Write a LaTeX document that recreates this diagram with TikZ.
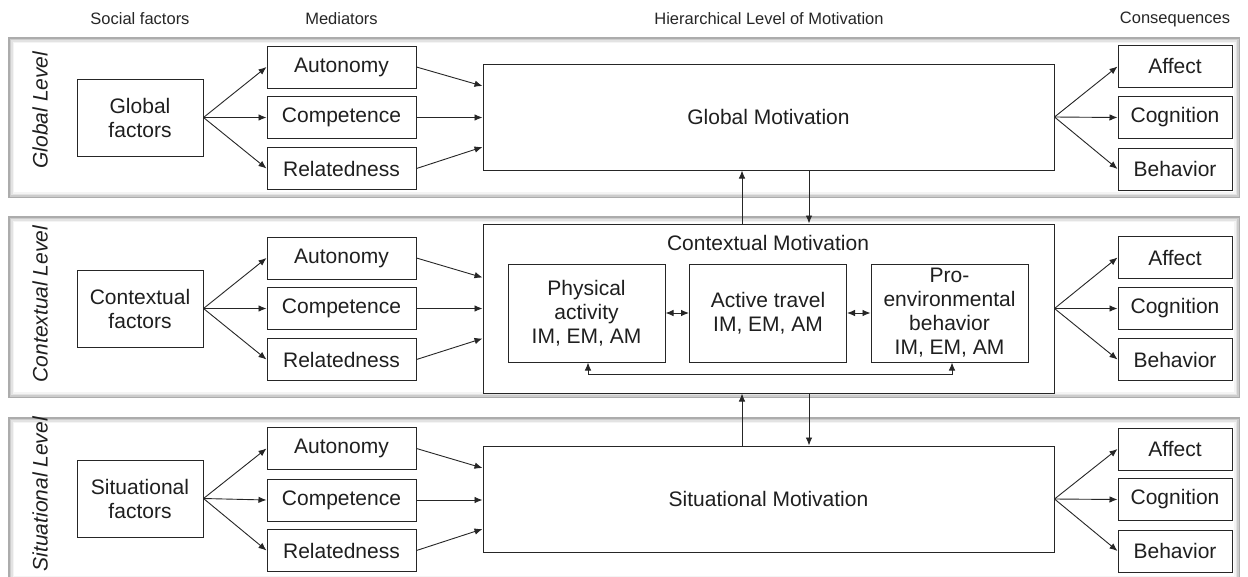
\documentclass[tikz,border=0pt]{standalone}
\usepackage{fontspec}
\setmainfont{Liberation Sans}
\usetikzlibrary{arrows.meta,calc}

\begin{document}
\begin{tikzpicture}[x=1pt,y=-1pt,
  box/.style={draw=black!85, line width=1pt, fill=white, inner sep=0pt,
    align=center, text=black!88, font=\fontsize{21}{24}\selectfont},
  medbox/.style={box, minimum width=149pt, minimum height=42pt},
  facbox/.style={box, minimum width=126pt, minimum height=77pt},
  conbox/.style={box, minimum width=114pt, minimum height=42pt},
  motbox/.style={box, minimum width=571pt},
  subbox/.style={box, minimum width=157pt, minimum height=98pt},
  tip/.tip={Latex[length=8pt,width=6.5pt]},
  arr/.style={draw=black!85, line width=0.9pt, -tip},
  darr/.style={draw=black!85, line width=0.9pt, tip-tip},
  head/.style={text=black!85, inner sep=0pt, font=\fontsize{16.5}{19}\selectfont},
  lvl/.style={rotate=90, inner sep=0pt, text=black!88,
    font=\fontsize{21}{24}\selectfont\itshape},
]
\useasboundingbox (0,0) rectangle (1248,576);

% level bands with a soft bevelled frame
\begin{scope}
\clip (0,0) rectangle (1248,576);
\foreach \t/\b in {37/198, 216/398, 417/582}{
  \fill[gray!65] (8,\t) rectangle (1240,\b);
  \fill[gray!40] (9.5,\t+1.5) rectangle (1238.5,\b-1.5);
  \fill[gray!22] (11,\t+3) rectangle (1237,\b-3);
  \fill[gray!9]  (12.5,\t+4.5) rectangle (1235.5,\b-4.5);
  \fill[white]   (14,\t+6) rectangle (1234,\b-6);
}
\end{scope}

% column headings
\node[head] (h-soc) at (140,19) {Social factors};
\node[head] (h-med) at (341.5,19) {Mediators};
\node[head] (h-hier) at (769,19) {Hierarchical Level of Motivation};
\node[head] (h-cons) at (1175,19) {Consequences};

% level labels
\node[lvl] (l-g) at (40,110) {Global Level};
\node[lvl] (l-c) at (40,304) {Contextual Level};
\node[lvl, anchor=east] (l-s) at (40,417) {Situational Level};

% ---------- global level ----------
\node[facbox] (g-f) at (140,117.5) {Global\\factors};
\node[medbox] (g-a) at (341.5,67) {Autonomy};
\node[medbox] (g-c) at (341.5,117.5) {Competence};
\node[medbox] (g-r) at (341.5,168.5) {Relatedness};
\node[motbox, minimum height=106pt] (g-m) at (768.5,117) {Global Motivation};
\node[conbox] (g-af) at (1175,66.5) {Affect};
\node[conbox] (g-co) at (1175,117.5) {Cognition};
\node[conbox] (g-be) at (1175,169) {Behavior};

% ---------- contextual level ----------
\node[facbox] (c-f) at (140,308.5) {Contextual\\factors};
\node[medbox] (c-a) at (341.5,258) {Autonomy};
\node[medbox] (c-c) at (341.5,308.5) {Competence};
\node[medbox] (c-r) at (341.5,359.5) {Relatedness};
\node[motbox, minimum height=169pt] (c-m) at (768.5,308.5) {};
\node[box, draw=none, fill=none] (c-title) at (768,243) {Contextual Motivation};
\node[subbox] (c-pa) at (586.5,313) {Physical\\activity\\IM, EM, AM};
\node[subbox] (c-at) at (768,313) {Active travel\\IM, EM, AM};
\node[subbox] (c-pe) at (949.5,313) {Pro-\\environmental\\behavior\\IM, EM, AM};
\node[conbox] (c-af) at (1175,257.5) {Affect};
\node[conbox] (c-co) at (1175,308.5) {Cognition};
\node[conbox] (c-be) at (1175,359.5) {Behavior};

% ---------- situational level ----------
\node[facbox] (s-f) at (140,498.5) {Situational\\factors};
\node[medbox] (s-a) at (341.5,448.5) {Autonomy};
\node[medbox] (s-c) at (341.5,500) {Competence};
\node[medbox] (s-r) at (341.5,550.5) {Relatedness};
\node[motbox, minimum height=106pt] (s-m) at (768.5,499) {Situational Motivation};
\node[conbox] (s-af) at (1175,449) {Affect};
\node[conbox] (s-co) at (1175,499.5) {Cognition};
\node[conbox] (s-be) at (1175,551) {Behavior};

% connectors repeated on each level
\foreach \p in {g,c,s}{
  \draw[arr] (\p-f.east) -- (\p-a.west);
  \draw[arr] (\p-f.east) -- (\p-c.west);
  \draw[arr] (\p-f.east) -- (\p-r.west);
  \draw[arr] (\p-a.east) -- ($(\p-m.west)+(0,-31)$);
  \draw[arr] (\p-c.east) -- (\p-c.east -| \p-m.west);
  \draw[arr] (\p-r.east) -- ($(\p-m.west)+(0,30)$);
  \draw[arr] (\p-m.east) -- (\p-af.west);
  \draw[arr] (\p-m.east) -- (\p-co.west);
  \draw[arr] (\p-m.east) -- (\p-be.west);
}

% links among the contextual domains
\draw[darr] (c-pa.east) -- (c-at.west);
\draw[darr] (c-at.east) -- (c-pe.west);
\draw[darr] ($(c-pa.south)+(1.5,0)$) -- ++(0,12) -| ($(c-pe.south)+(2.5,0)$);

% links between levels
\coordinate (upx) at (742,0);
\coordinate (dnx) at (809,0);
\draw[arr] (c-m.north -| upx) -- (g-m.south -| upx);
\draw[arr] (g-m.south -| dnx) -- (c-m.north -| dnx);
\draw[arr] (s-m.north -| upx) -- (c-m.south -| upx);
\draw[arr] (c-m.south -| dnx) -- (s-m.north -| dnx);
\end{tikzpicture}
\end{document}
